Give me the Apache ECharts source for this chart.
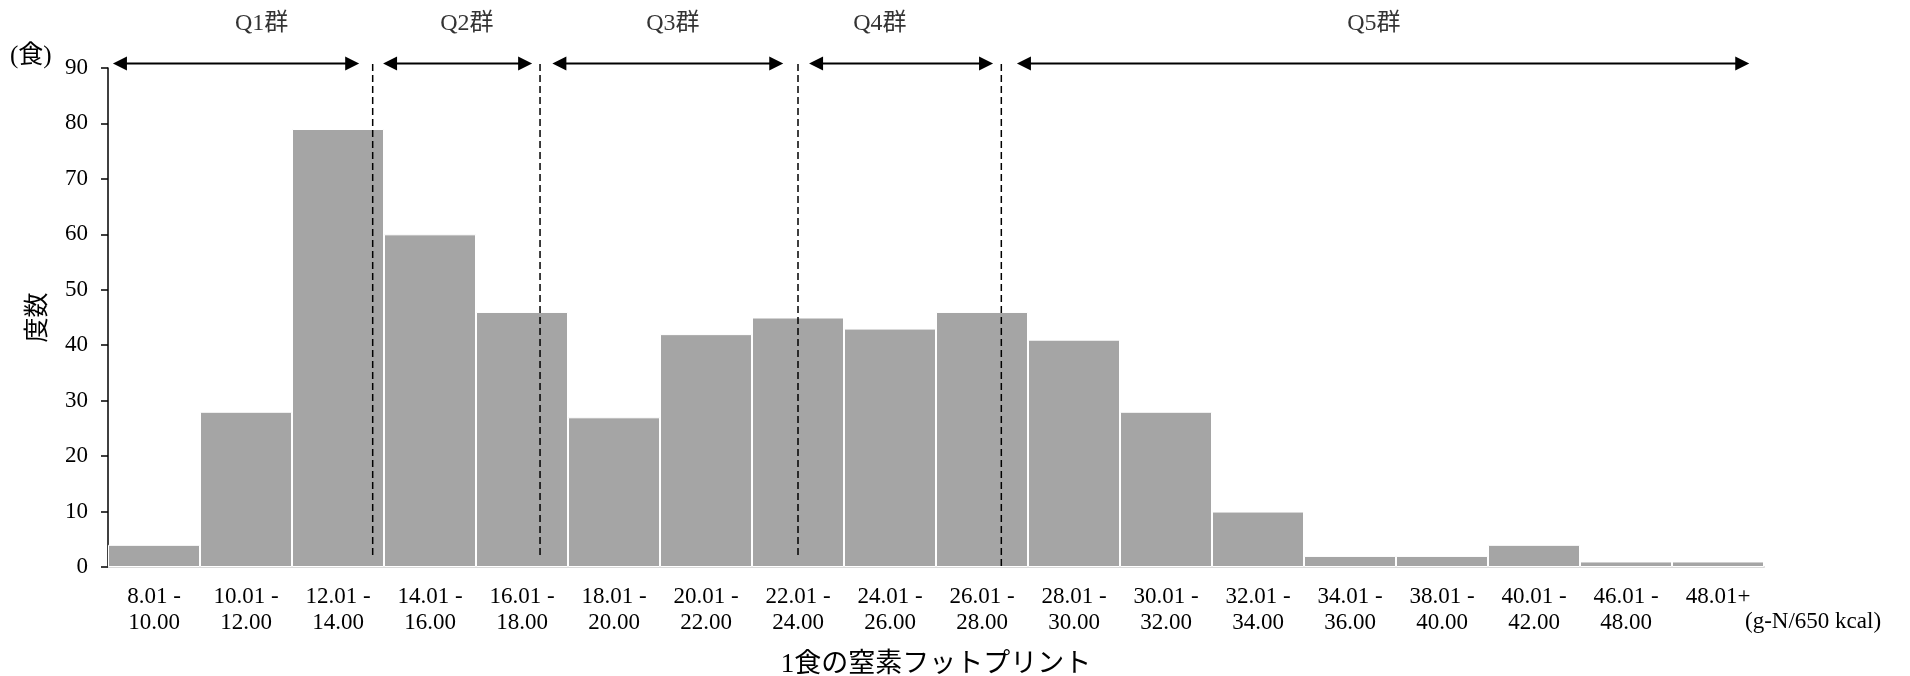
<!DOCTYPE html>
<html>
<head>
<meta charset="utf-8">
<script src="https://cdn.jsdelivr.net/npm/echarts@6/dist/echarts.min.js"></script>
<style>
html,body{margin:0;padding:0;background:#fff;}
#chart{width:1910px;height:676px;}
</style>
</head>
<body>
<div id="chart"></div>
<script>
// ---- data ----
const categories = ['8.01 -\n10.00','10.01 -\n12.00','12.01 -\n14.00','14.01 -\n16.00','16.01 -\n18.00','18.01 -\n20.00','20.01 -\n22.00','22.01 -\n24.00','24.01 -\n26.00','26.01 -\n28.00','28.01 -\n30.00','30.01 -\n32.00','32.01 -\n34.00','34.01 -\n36.00','38.01 -\n40.00','40.01 -\n42.00','46.01 -\n48.00','48.01+'];
const counts = [4, 28, 79, 60, 46, 27, 42, 45, 43, 46, 41, 28, 10, 2, 2, 4, 1, 1];
const yTicks = [0, 10, 20, 30, 40, 50, 60, 70, 80, 90];
// group annotations (in category-index units, 0..18)
const groupNames = ['Q1群', 'Q2群', 'Q3群', 'Q4群', 'Q5群'];
const groupStart = [0.054, 2.99, 4.83, 7.62, 9.88];
const groupEnd   = [2.73, 4.61, 7.34, 9.62, 17.84];
const groupLabelAt = [1.67, 3.90, 6.14, 8.39, 13.76];
const dividerAt = [2.877, 4.696, 7.5, 9.71];
const dividerBottom = [2, 2, 2, -0.5];

const FONT = "'Liberation Serif', 'Noto Sans CJK JP', serif";
const arrowY = 90.8, labelY = 98, dividerTop = 90.7;

const chart = echarts.init(document.getElementById('chart'), null, {renderer: 'canvas'});

function renderArrow(params, api) {
  const p0 = api.coord([api.value(0), api.value(2)]);
  const p1 = api.coord([api.value(1), api.value(2)]);
  const L = 14, W = 7;
  return {
    type: 'group',
    children: [
      {type: 'line', shape: {x1: p0[0] + L - 2, y1: p0[1], x2: p1[0] - L + 2, y2: p1[1]},
       style: {stroke: '#000', lineWidth: 2}},
      {type: 'polygon', shape: {points: [[p0[0], p0[1]], [p0[0] + L, p0[1] - W], [p0[0] + L, p0[1] + W]]},
       style: {fill: '#000'}},
      {type: 'polygon', shape: {points: [[p1[0], p1[1]], [p1[0] - L, p1[1] - W], [p1[0] - L, p1[1] + W]]},
       style: {fill: '#000'}}
    ]
  };
}
function renderDivider(params, api) {
  const p0 = api.coord([api.value(0), api.value(1)]);
  const p1 = api.coord([api.value(0), api.value(2)]);
  return {
    type: 'line',
    shape: {x1: p0[0], y1: p0[1], x2: p1[0], y2: p1[1]},
    style: {stroke: '#000', lineWidth: 1.5, lineDash: [7, 4]}
  };
}

const option = {
  animation: false,
  backgroundColor: '#ffffff',
  textStyle: {fontFamily: FONT},
  grid: {left: 108, right: 146, top: 68, bottom: 109, containLabel: false, outerBoundsMode: 'none'},
  xAxis: [
    {
      type: 'category',
      data: categories,
      axisLine: {show: true, lineStyle: {color: '#d9d9d9', width: 2}},
      axisTick: {show: false},
      axisLabel: {interval: 0, color: '#000', fontSize: 23, lineHeight: 26, margin: 17, fontFamily: FONT},
      name: '1食の窒素フットプリント',
      nameLocation: 'middle',
      nameGap: 84,
      nameTextStyle: {color: '#000', fontSize: 27, fontFamily: FONT}
    },
    {
      type: 'value', min: 0, max: 18, show: false, position: 'bottom'
    }
  ],
  yAxis: {
    type: 'value',
    min: 0, max: 90, interval: 10,
    axisLine: {show: true, lineStyle: {color: '#000', width: 1.5}},
    axisTick: {show: true, length: 7, inside: false, lineStyle: {color: '#000', width: 1.5}},
    splitLine: {show: false},
    axisLabel: {color: '#000', fontSize: 23, margin: 20, fontFamily: FONT,
      formatter: v => yTicks.includes(v) ? String(v) : ''},
    name: '度数',
    nameLocation: 'middle',
    nameGap: 57,
    nameRotate: 90,
    nameTextStyle: {color: '#000', fontSize: 25, fontFamily: FONT}
  },
  series: [
    {
      type: 'bar',
      data: counts,
      xAxisIndex: 0,
      barCategoryGap: '0%',
      itemStyle: {color: '#a5a5a5', borderColor: '#ffffff', borderWidth: 1},
      silent: true
    },
    {
      type: 'custom',
      xAxisIndex: 1,
      clip: false,
      silent: true,
      renderItem: renderArrow,
      data: groupNames.map((n, i) => [groupStart[i], groupEnd[i], arrowY]),
      z: 5
    },
    {
      type: 'custom',
      xAxisIndex: 1,
      clip: false,
      silent: true,
      renderItem: renderDivider,
      data: dividerAt.map((x, i) => [x, dividerTop, dividerBottom[i]]),
      z: 5
    },
    {
      type: 'scatter',
      xAxisIndex: 1,
      symbolSize: 0,
      clip: false,
      silent: true,
      data: groupNames.map((n, i) => [groupLabelAt[i], labelY, n]),
      label: {show: true, position: 'inside', formatter: p => p.data[2], color: '#000', fontSize: 24, fontFamily: FONT}
    }
  ],
  graphic: [
    {type: 'text', left: 10, top: 44, style: {text: '(食)', font: "25px " + FONT, fill: '#000'}},
    {type: 'text', left: 1745, top: 610, style: {text: '(g-N/650 kcal)', font: "23px " + FONT, fill: '#000'}}
  ]
};
chart.setOption(option);
</script>
</body>
</html>
